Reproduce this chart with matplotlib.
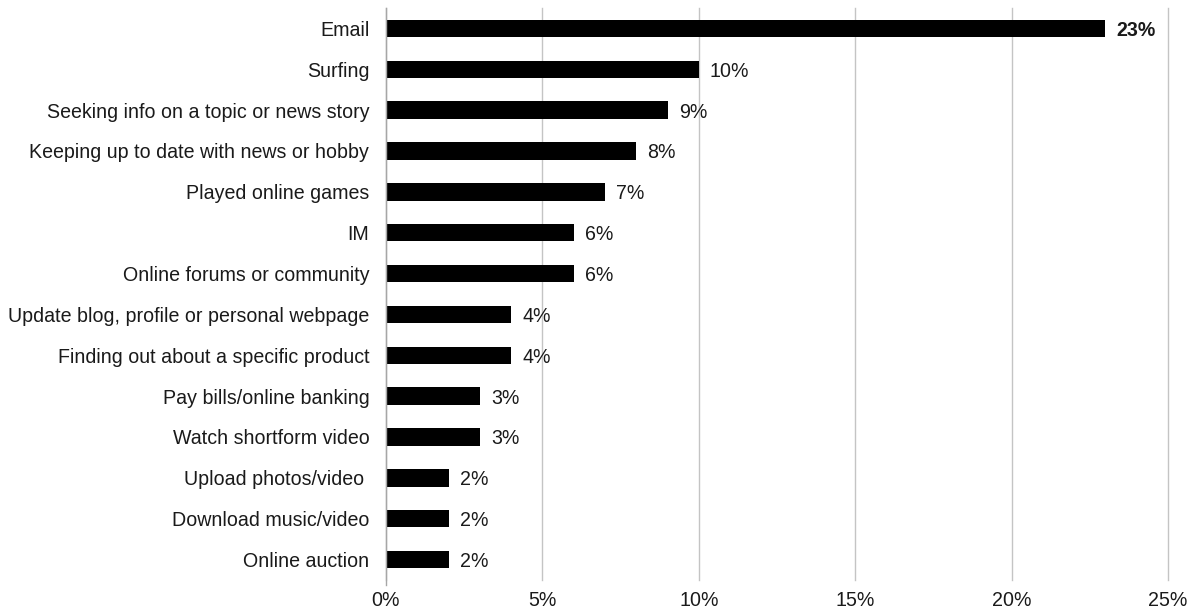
import matplotlib
matplotlib.use("Agg")
import matplotlib.pyplot as plt
from matplotlib.ticker import FuncFormatter

plt.rcParams['font.family'] = ['Liberation Sans', 'DejaVu Sans']

categories = [
    "Email",
    "Surfing",
    "Seeking info on a topic or news story",
    "Keeping up to date with news or hobby",
    "Played online games",
    "IM",
    "Online forums or community",
    "Update blog, profile or personal webpage",
    "Finding out about a specific product",
    "Pay bills/online banking",
    "Watch shortform video",
    "Upload photos/video ",
    "Download music/video",
    "Online auction",
]
values = [23, 10, 9, 8, 7, 6, 6, 4, 4, 3, 3, 2, 2, 2]
xticks = [0, 5, 10, 15, 20, 25]

FS = 14.1

fig = plt.figure(figsize=(11.95, 6.11), dpi=100)
ax = fig.add_axes([386 / 1195, 1 - 580 / 611, (1168 - 386) / 1195, (580 - 8) / 611])

ypos = list(range(len(categories)))
ax.barh(ypos, values, height=0.43, color="black", zorder=3)
ax.set_ylim(len(categories) - 0.5, -0.5)
ax.set_xlim(0, 25)
ax.set_yticks(ypos)
ax.set_yticklabels(categories, fontsize=FS, color="#1a1a1a")
ax.set_xticks(xticks)
ax.xaxis.set_major_formatter(FuncFormatter(lambda v, p: f"{v:.0f}%"))
ax.tick_params(axis="x", labelsize=FS, length=0, pad=8, labelcolor="#1a1a1a")
ax.tick_params(axis="y", length=0, pad=12)

ax.grid(axis="x", color="#c4c4c4", linewidth=1, zorder=0)
for line in ax.get_xgridlines():
    line.set_clip_on(False)
for s in ["top", "right", "bottom"]:
    ax.spines[s].set_visible(False)
ax.spines["left"].set_color("#a6a6a6")
ax.spines["left"].set_linewidth(1)
ax.spines["left"].set_bounds(len(categories) - 0.5 + 0.12, -0.5)
ax.spines["left"].set_zorder(4)

for y, v in zip(ypos, values):
    ax.annotate(f"{v}%", xy=(v, y), xytext=(8, 0), textcoords="offset points",
                va="center_baseline", ha="left", fontsize=FS, color="#1a1a1a",
                fontweight="bold" if v == max(values) else "normal")

fig.savefig("out.png", dpi=100)
